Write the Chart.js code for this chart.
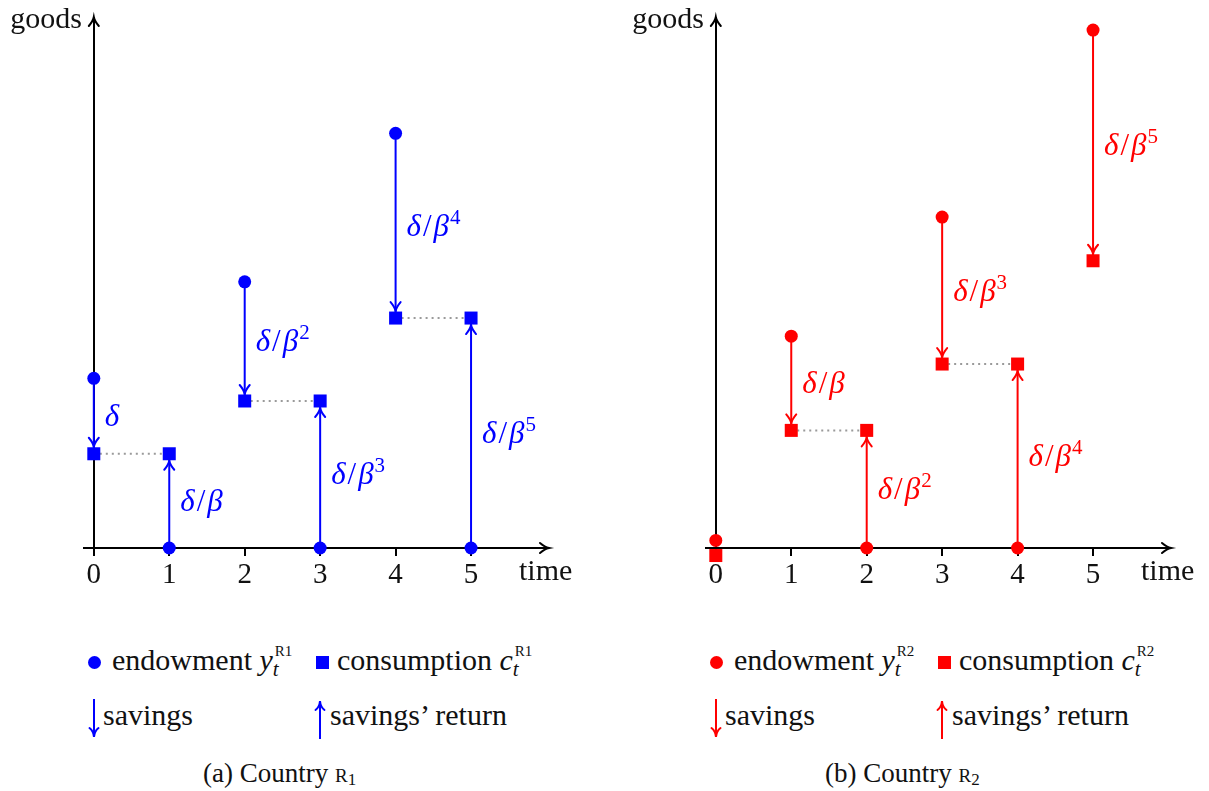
<!DOCTYPE html>
<html>
<head>
<meta charset="utf-8">
<script src="https://cdn.jsdelivr.net/npm/chart.js@4.4.0/dist/chart.umd.min.js"></script>
<style>
body{margin:0;background:#fff;width:1209px;height:791px;overflow:hidden;font-family:"Liberation Serif",serif;color:#111;}
.panel{position:absolute;top:0;width:587px;height:791px;}
.panel canvas{position:absolute;left:0;top:0;}
.lg{position:absolute;font-family:"Liberation Serif",serif;font-size:30px;line-height:30px;white-space:nowrap;}
.dot{position:absolute;width:13px;height:13px;border-radius:50%;}
.sq{position:absolute;width:13px;height:13px;}
.arr{position:absolute;}
.ss{display:inline-block;position:relative;width:24px;height:0;}
.ss .sup{position:absolute;left:2px;top:-26px;font-size:15px;line-height:15px;}
.ss .sub{position:absolute;left:0;top:-11px;font-size:21px;line-height:21px;font-style:italic;}
.cap{position:absolute;font-family:"Liberation Serif",serif;font-size:27px;line-height:27px;white-space:nowrap;}
.cap .sc{font-size:19px;}
.cap sub{font-size:17px;vertical-align:-3px;}
</style>
</head>
<body>
<div class="panel" id="p1" style="left:0"><canvas id="chart1" width="587" height="600"></canvas></div>
<div class="panel" id="p2" style="left:622px"><canvas id="chart2" width="587" height="600"></canvas></div>
<script>
// values, in goods units (1 unit = 1 time step)
const times = [0, 1, 2, 3, 4, 5];
const tickLabels = ['0', '1', '2', '3', '4', '5'];

const r1Endowment = [2.25, 0, 3.53, 0, 5.5, 0];
const r1Consumption = [1.25, 1.25, 1.95, 1.95, 3.05, 3.05];
const r1BetaPower = [0, 1, 2, 3, 4, 5];   // label on each arrow: delta / beta^n

const r2Endowment = [0.1, 2.81, 0, 4.39, 0, 6.87];
const r2Consumption = [-0.1, 1.56, 1.56, 2.44, 2.44, 3.81];
const r2BetaPower = [null, 1, 2, 3, 4, 5];

const FONT = '"Liberation Serif", serif';

// little "to" style arrow head, (dx,dy) points toward the tip
function arrowHead(ctx, x, y, dx, dy) {
	const len = 9, half = 5;
	const px = -dy, py = dx;
	const bx = x - dx * len, by = y - dy * len;
	const cx = x - dx * len * 0.45, cy = y - dy * len * 0.45;
	ctx.beginPath();
	ctx.moveTo(bx + px * half, by + py * half);
	ctx.quadraticCurveTo(cx + px * 0.8, cy + py * 0.8, x, y);
	ctx.quadraticCurveTo(cx - px * 0.8, cy - py * 0.8, bx - px * half, by - py * half);
	ctx.lineCap = 'round';
	ctx.stroke();
}

// delta, or delta / beta^n, written piece by piece like TeX math
function drawLabel(ctx, x, y, power, color) {
	ctx.fillStyle = color;
	ctx.textAlign = 'left';
	ctx.textBaseline = 'alphabetic';
	const base = y + 10;
	ctx.font = 'italic 31px ' + FONT;
	ctx.fillText('δ', x, base);
	if (power === 0) return;
	let cx = x + ctx.measureText('δ').width + 2;
	ctx.font = '31px ' + FONT;
	ctx.fillText('/', cx, base);
	cx += ctx.measureText('/').width + 2;
	ctx.font = 'italic 31px ' + FONT;
	ctx.fillText('β', cx, base);
	cx += ctx.measureText('β').width + 1;
	if (power > 1) {
		ctx.font = '21px ' + FONT;
		ctx.fillText(String(power), cx, base - 12);
	}
}

const decorPlugin = {
	id: 'decor',
	afterDatasetsDraw(chart) {
		const ctx = chart.ctx;
		const xs = chart.scales.x, ys = chart.scales.y, area = chart.chartArea;
		const x0 = xs.getPixelForValue(0), y0 = ys.getPixelForValue(0);
		ctx.save();
		ctx.strokeStyle = '#000';
		ctx.lineWidth = 2;
		arrowHead(ctx, area.right + 1, y0, 1, 0);
		arrowHead(ctx, x0, area.top - 1, 0, -1);

		ctx.fillStyle = '#111';
		ctx.font = '30px ' + FONT;
		ctx.textBaseline = 'middle';
		ctx.textAlign = 'right';
		ctx.fillText('goods', x0 - 12, area.top + 2);
		ctx.textAlign = 'left';
		ctx.fillText('time', area.right - 29, y0 + 24);

		chart.data.datasets.forEach((ds, i) => {
			if (!ds.arrow) return;
			const pts = chart.getDatasetMeta(i).data;
			const p0 = pts[0], p1 = pts[1];
			const dir = p1.y > p0.y ? 1 : -1;
			ctx.strokeStyle = ds.borderColor;
			ctx.lineWidth = 2;
			arrowHead(ctx, p1.x, p1.y - dir * 7, 0, dir);
			drawLabel(ctx, p1.x + 11, (p0.y + p1.y) / 2, ds.power, ds.borderColor);
		});
		ctx.restore();
	}
};

function makeChart(id, endow, cons, powers, color) {
	const datasets = [];
	datasets.push({
		label: 'endowment',
		data: times.map((t, i) => ({x: t, y: endow[i]})),
		pointStyle: 'circle', pointRadius: 6.5,
		pointBackgroundColor: color, pointBorderWidth: 0,
		showLine: false, clip: false
	});
	datasets.push({
		label: 'consumption',
		data: times.map((t, i) => ({x: t, y: cons[i]})),
		pointStyle: 'rect', pointRadius: 9.2,
		pointBackgroundColor: color, pointBorderWidth: 0,
		showLine: false, clip: false
	});
	times.forEach((t, i) => {
		if (powers[i] === null) return;
		datasets.push({
			label: 'arrow', arrow: true, power: powers[i],
			data: [{x: t, y: endow[i]}, {x: t, y: cons[i]}],
			showLine: true, borderColor: color, borderWidth: 2,
			pointRadius: 0, clip: false
		});
	});
	times.forEach((t, i) => {
		if (i < times.length - 1 && cons[i] === cons[i + 1]) {
			datasets.push({
				label: 'dots',
				data: [{x: t, y: cons[i]}, {x: times[i + 1], y: cons[i]}],
				showLine: true, borderColor: '#9a9a9a', borderWidth: 2,
				borderDash: [2, 4], pointRadius: 0, clip: false
			});
		}
	});

	return new Chart(document.getElementById(id), {
		type: 'scatter',
		data: {datasets: datasets},
		options: {
			responsive: false,
			animation: false,
			events: [],
			layout: {padding: {left: 84, right: 39, top: 18, bottom: 52}},
			plugins: {legend: {display: false}, tooltip: {enabled: false}},
			scales: {
				x: {
					type: 'linear', min: -0.13, max: 6.02,
					position: {y: 0},
					afterFit: s => { s.height = 0; },
					afterBuildTicks: s => { s.ticks = tickLabels.map(v => ({value: Number(v)})); },
					grid: {display: true, drawOnChartArea: false, drawTicks: true, tickLength: 7, color: '#000', lineWidth: 2},
					border: {display: true, color: '#000', width: 2},
					ticks: {color: '#111', padding: 3, font: {family: FONT, size: 29}, callback: v => tickLabels[v]}
				},
				y: {
					type: 'linear', min: 0, max: 7.03,
					position: {x: 0},
					afterFit: s => { s.width = 0; },
					grid: {display: false},
					border: {display: true, color: '#000', width: 2},
					ticks: {display: false}
				}
			}
		},
		plugins: [decorPlugin]
	});
}

function arrowSvg(color, up) {
	const line = up ? 'M7 4 V40' : 'M7 0 V36';
	const head = up ? 'M2.5 11 Q6.5 8 7 2 Q7.5 8 11.5 11' : 'M2.5 29 Q6.5 32 7 38 Q7.5 32 11.5 29';
	return `<svg width="14" height="40" viewBox="0 0 14 40"><path d="${line}" stroke="${color}" stroke-width="2" fill="none"/>` +
		`<path d="${head}" stroke="${color}" stroke-width="2" fill="none" stroke-linecap="round"/></svg>`;
}

function buildLegend(panelId, color, tag, letter) {
	const p = document.getElementById(panelId);
	const ss = `<span class="ss"><span class="sup">R${tag}</span><span class="sub">t</span></span>`;
	p.insertAdjacentHTML('beforeend',
		`<div class="dot" style="left:88px;top:656px;background:${color}"></div>` +
		`<div class="lg" style="left:112px;top:645px">endowment <i>y</i>${ss}</div>` +
		`<div class="sq" style="left:316px;top:656px;background:${color}"></div>` +
		`<div class="lg" style="left:337px;top:645px">consumption <i>c</i>${ss}</div>` +
		`<div class="arr" style="left:87px;top:699px">${arrowSvg(color, false)}</div>` +
		`<div class="lg" style="left:103px;top:700px">savings</div>` +
		`<div class="arr" style="left:313px;top:699px">${arrowSvg(color, true)}</div>` +
		`<div class="lg" style="left:330px;top:700px">savings’ return</div>` +
		`<div class="cap" style="left:203px;top:760px">(${letter}) Country <span class="sc">R</span><sub>${tag}</sub></div>`
	);
}

makeChart('chart1', r1Endowment, r1Consumption, r1BetaPower, '#0000ff');
makeChart('chart2', r2Endowment, r2Consumption, r2BetaPower, '#ff0000');
buildLegend('p1', '#0000ff', '1', 'a');
buildLegend('p2', '#ff0000', '2', 'b');
</script>
</body>
</html>
